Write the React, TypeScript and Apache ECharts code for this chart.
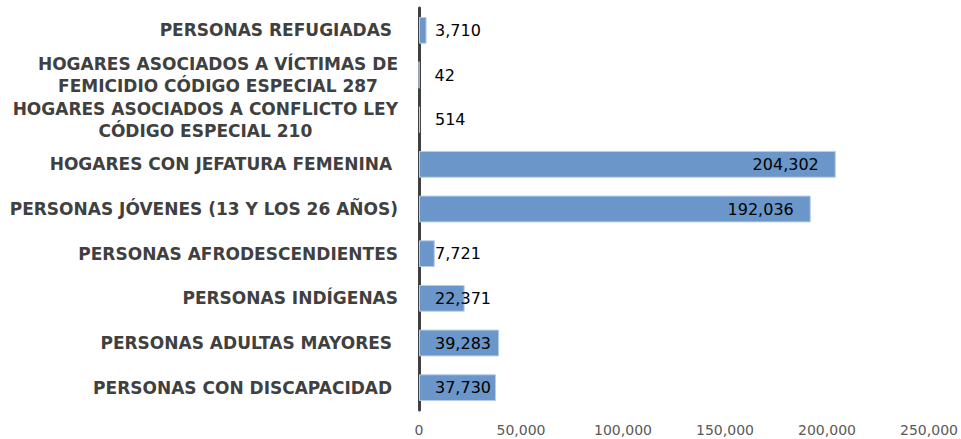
import React, { useEffect, useRef } from "react";
import * as echarts from "echarts";

const categories: string[] = [
  "PERSONAS REFUGIADAS ",
  "HOGARES ASOCIADOS A VÍCTIMAS DE\nFEMICIDIO CÓDIGO ESPECIAL 287",
  "HOGARES ASOCIADOS A CONFLICTO LEY\nCÓDIGO ESPECIAL 210",
  "HOGARES CON JEFATURA FEMENINA ",
  "PERSONAS JÓVENES (13 Y LOS 26 AÑOS)",
  "PERSONAS AFRODESCENDIENTES",
  "PERSONAS INDÍGENAS",
  "PERSONAS ADULTAS MAYORES ",
  "PERSONAS CON DISCAPACIDAD ",
];

const values: number[] = [3710, 42, 514, 204302, 192036, 7721, 22371, 39283, 37730];

const xTicks: number[] = [0, 50000, 100000, 150000, 200000, 250000];

const fmt = (v: number) => v.toLocaleString("en-US");

export default function App() {
  const ref = useRef<HTMLDivElement>(null);

  useEffect(() => {
    if (!ref.current) return;
    const chart = echarts.init(ref.current, undefined, { renderer: "svg" });
    const xMax = xTicks[xTicks.length - 1];
    const interval = xTicks[1] - xTicks[0];
    chart.setOption({
      animation: false,
      backgroundColor: "#ffffff",
      grid: { left: 419, right: 32, top: 8, bottom: 29, containLabel: false },
      xAxis: {
        type: "value",
        min: xTicks[0],
        max: xMax,
        interval,
        axisLine: { show: false },
        axisTick: { show: false },
        splitLine: { show: false },
        axisLabel: {
          color: "#595959",
          fontFamily: "DejaVu Sans",
          fontSize: 14,
          margin: 13,
          formatter: (v: number) => fmt(v),
        },
      },
      yAxis: {
        type: "category",
        inverse: true,
        data: categories,
        axisLine: { show: true, lineStyle: { color: "#404040", width: 3 } },
        axisTick: { show: false },
        splitLine: { show: false },
        axisLabel: {
          margin: 21,
          align: "right",
          formatter: (v: string) =>
            v
              .split("\n")
              .map((l) => `{c|${l}}`)
              .join("\n"),
          rich: {
            c: {
              align: "center",
              color: "#404040",
              fontFamily: "DejaVu Sans",
              fontWeight: "bold",
              fontSize: 17,
              lineHeight: 22,
            },
          },
        },
      },
      series: [
        {
          type: "bar",
          barWidth: "60%",
          data: values.map((v) => ({
            value: v,
            label: {
              position: v > 100000 ? "insideRight" : "insideLeft",
              distance: v > 100000 ? 17 : 16,
            },
          })),
          itemStyle: {
            color: "#6B96C9",
            borderColor: "#B8CDE7",
            borderWidth: 1,
          },
          label: {
            show: true,
            color: "#000000",
            fontFamily: "DejaVu Sans",
            fontSize: 16,
            formatter: (p: any) => fmt(p.value),
          },
        },
      ],
    });
    return () => chart.dispose();
  }, []);

  return (
    <div
      ref={ref}
      style={{ position: "absolute", left: 0, top: 0, width: 961, height: 439 }}
    />
  );
}
